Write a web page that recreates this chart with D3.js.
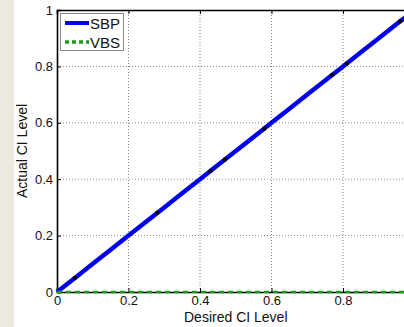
<!DOCTYPE html>
<html><head><meta charset="utf-8">
<script src="https://cdn.jsdelivr.net/npm/d3@7"></script>
<style>body{margin:0;background:#fff}svg{display:block}text{font-family:"Liberation Sans",Arial,sans-serif}</style>
</head><body>
<svg id="c" width="404" height="327"></svg>
<script>
const xTicks=[0,0.2,0.4,0.6,0.8,1];
const xTickLabels=["0","0.2","0.4","0.6","0.8",""];
const yTicks=[0,0.2,0.4,0.6,0.8,1];
const sbpX=[0,0.05,0.1,0.15,0.2,0.25,0.3,0.35,0.4,0.45,0.5,0.55,0.6,0.65,0.7,0.75,0.8,0.85,0.9,0.95,1];
const sbpY=[0,0.05,0.1,0.15,0.2,0.25,0.3,0.35,0.4,0.45,0.5,0.55,0.6,0.65,0.7,0.75,0.8,0.85,0.9,0.95,1];
const vbsX=[0,1];
const vbsY=[0,0];
const idealX=[0,1];
const markX=[0.05,0.28,0.43,0.47,0.58,0.77,0.81,0.96];
const seriesNames=["SBP","VBS"];

const svg=d3.select("#c");
svg.append("rect").attr("x",0).attr("y",0).attr("width",14).attr("height",327).attr("fill","#ece9e0");
const x=d3.scaleLinear().domain([0,1]).range([57,414.5]);
const y=d3.scaleLinear().domain([0,1]).range([292,10]);

// grid
const g=svg.append("g");
g.selectAll(".vg").data(xTicks.slice(1,-1)).join("line").attr("x1",d=>x(d)).attr("x2",d=>x(d)).attr("y1",y(0)).attr("y2",y(1))
 .attr("stroke","#888").attr("stroke-width",1).attr("stroke-dasharray","1,2");
g.selectAll(".hg").data(yTicks.slice(1,-1)).join("line").attr("y1",d=>y(d)).attr("y2",d=>y(d)).attr("x1",x(0)).attr("x2",x(1))
 .attr("stroke","#888").attr("stroke-width",1).attr("stroke-dasharray","1,2");

// axes
const xa=svg.append("g").attr("transform",`translate(0,${y(0)})`).call(d3.axisBottom(x).tickValues(xTicks).tickSize(-4).tickPadding(5).tickFormat((d,i)=>xTickLabels[i]));
const xt=svg.append("g").attr("transform",`translate(0,${y(1)})`).call(d3.axisTop(x).tickValues(xTicks).tickSize(-4).tickFormat(""));
const ya=svg.append("g").attr("transform",`translate(${x(0)},0)`).call(d3.axisLeft(y).tickValues(yTicks).tickSize(-4).tickPadding(4).tickFormat(d3.format("~g")));
[xa,xt,ya].forEach(a=>{a.select(".domain").attr("stroke","#000").attr("stroke-width",1.6);a.selectAll(".tick line").attr("stroke","#000");a.selectAll("text").attr("font-size",13).attr("fill","#111")});
xa.selectAll("text").attr("dy","0.6em");

// lines
const line=d3.line().x(d=>x(d[0])).y(d=>y(d[1]));
svg.append("path").datum(sbpX.map((v,i)=>[v,sbpY[i]])).attr("d",line).attr("fill","none").attr("stroke","#0000ff").attr("stroke-width",4.5);
svg.append("path").datum(idealX.map(v=>[v,v])).attr("d",line).attr("fill","none").attr("stroke","#000").attr("stroke-width",1).attr("stroke-dasharray","1,2.5");
svg.selectAll(".mk").data(markX).join("circle").attr("cx",d=>x(d)).attr("cy",d=>y(d)).attr("r",2.2).attr("fill","#000");
svg.append("path").datum(vbsX.map((v,i)=>[v,vbsY[i]])).attr("d",line).attr("fill","none").attr("stroke","#1a9a1a").attr("stroke-width",2.5).attr("stroke-dasharray","5,4");

// labels
svg.append("text").attr("x",x(0.5)).attr("y",322).attr("text-anchor","middle").attr("font-size",14).attr("fill","#111").text("Desired CI Level");
svg.append("text").attr("transform",`translate(27,${y(0.5)}) rotate(-90)`).attr("text-anchor","middle").attr("font-size",14).attr("fill","#111").text("Actual CI Level");

// legend
const lg=svg.append("g");
lg.append("rect").attr("x",60.5).attr("y",13.5).attr("width",63).attr("height",37).attr("fill","#fff").attr("stroke","#888").attr("stroke-width",1);
const styles=[{c:"#0000ff",w:4,da:null},{c:"#1a9a1a",w:3.5,da:"4,3"}];
seriesNames.forEach((n,i)=>{
  const yy=23+i*19;
  lg.append("line").attr("x1",65).attr("x2",89).attr("y1",yy).attr("y2",yy).attr("stroke",styles[i].c).attr("stroke-width",styles[i].w).attr("stroke-dasharray",styles[i].da);
  lg.append("text").attr("x",90).attr("y",yy+5.5).attr("font-size",15).attr("fill","#111").text(n);
});
</script>
</body></html>
